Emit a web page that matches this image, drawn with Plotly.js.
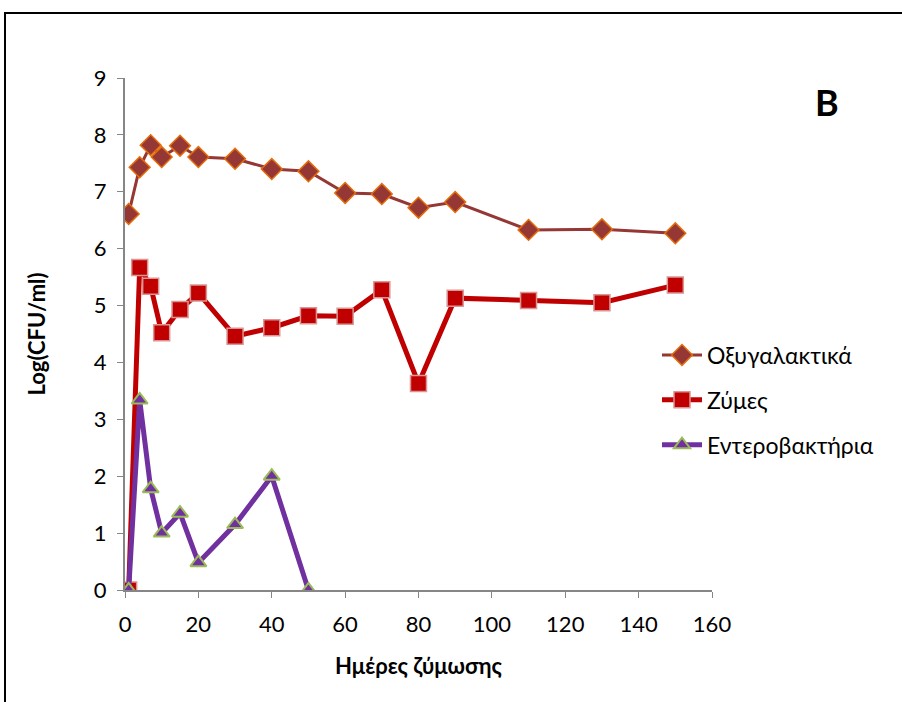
<!DOCTYPE html>
<html><head><meta charset="utf-8">
<script src="https://cdn.plot.ly/plotly-3.0.1.min.js"></script>
<style>html,body{margin:0;padding:0;background:#fff}</style>
</head><body>
<div id="chart" style="width:902px;height:702px"></div>
<script>
const days = [1,4,7,10,15,20,30,40,50,60,70,80,90,110,130,150];
const oxygalaktika = [6.61,7.43,7.82,7.61,7.81,7.61,7.58,7.40,7.36,6.98,6.96,6.72,6.82,6.33,6.34,6.27];
const zymes = [0,5.67,5.34,4.52,4.93,5.22,4.46,4.61,4.82,4.81,5.28,3.63,5.13,5.09,5.05,5.36];
const enteroDays = [1,4,7,10,15,20,30,40,50];
const entero = [0,3.34,1.78,1.0,1.35,0.48,1.15,2.0,0];
const names = ["Οξυγαλακτικά","Ζύμες","Εντεροβακτήρια"];
const xTicks = [0,20,40,60,80,100,120,140,160];
const yTicks = [0,1,2,3,4,5,6,7,8,9];

const font = "Lato, 'Noto Sans', sans-serif";
const traces = [
  {x: days, y: oxygalaktika, name: names[0], legendgroup:"a", mode:"lines+markers",
   line:{color:"#953735", width:3},
   marker:{symbol:"diamond", size:16, color:"#953735", line:{color:"#E46C0A", width:1.5}}},
  {x: days, y: zymes, name: names[1], legendgroup:"b", mode:"lines+markers",
   line:{color:"#C00000", width:5},
   marker:{symbol:"square", size:16, color:"#C00000", line:{color:"#D99694", width:1.5}}},
  {x: enteroDays, y: entero, name: names[2], legendgroup:"c", mode:"lines+markers",
   line:{color:"#7030A0", width:5},
   marker:{symbol:"triangle-up", size:14, color:"#7030A0", line:{color:"#9BBB59", width:2}}}
];
const layout = {
  width:902, height:702,
  margin:{l:125, r:190, t:78, b:112, autoexpand:false},
  paper_bgcolor:"#fff", plot_bgcolor:"#fff",
  font:{family:font, size:22, color:"#000"},
  showlegend:true,
  legend:{x:(657-125)/587, y:(590-400)/512, yanchor:"middle", xanchor:"left", font:{size:23, family:font},
          tracegroupgap:12, bgcolor:"rgba(0,0,0,0)", itemwidth:40},
  xaxis:{range:[0,160], tickvals:xTicks, ticks:"outside", ticklen:6, tickcolor:"#868686",
         showline:true, linecolor:"#868686", linewidth:2, showgrid:false, zeroline:false,
         tickfont:{size:22, family:font}, ticklabelstandoff:8,
         title:{text:"<b>Ημέρες ζύμωσης</b>", font:{size:22, family:font}, standoff:22}},
  yaxis:{range:[0,9], tickvals:yTicks, ticks:"outside", ticklen:6, tickcolor:"#868686",
         showline:true, linecolor:"#868686", linewidth:2, showgrid:false, zeroline:false,
         tickfont:{size:22, family:font}, ticklabelstandoff:6,
         title:{text:"<b>Log(CFU/ml)</b>", font:{size:22, family:font}, standoff:42}},
  annotations:[{xref:"paper", yref:"paper", x:(827-125)/587, y:(590-102)/512, xanchor:"center", yanchor:"middle",
                text:"<b>B</b>", showarrow:false, font:{size:36, family:font, color:"#000"}}],
  shapes:[{type:"rect", xref:"paper", yref:"paper", x0:(5-125)/587, x1:1.5, y0:-0.5, y1:(590-13)/512,
           line:{color:"#000", width:2}, fillcolor:"rgba(0,0,0,0)", layer:"below"}]
};
Plotly.newPlot("chart", traces, layout, {displayModeBar:false, staticPlot:true});
</script>
</body></html>
